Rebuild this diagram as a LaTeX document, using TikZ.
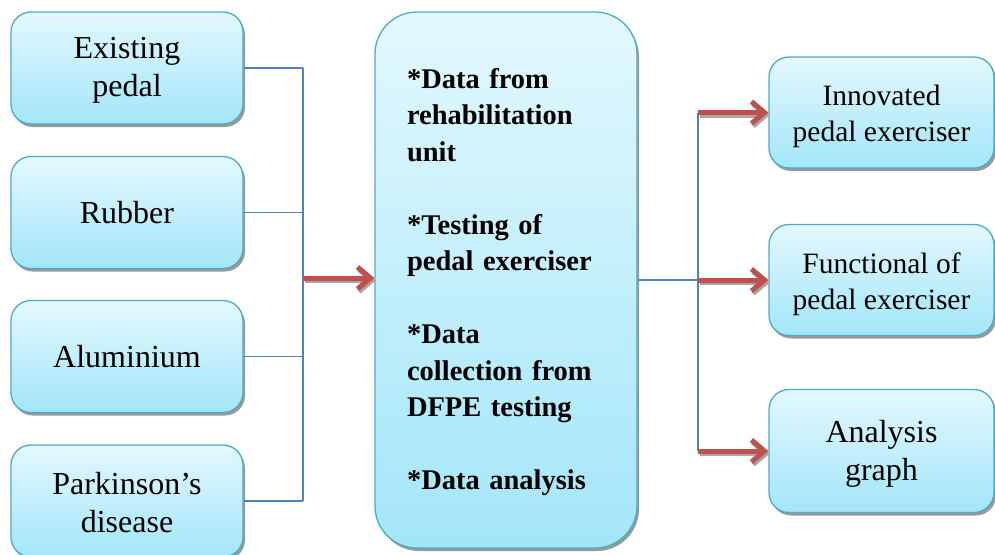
\documentclass[tikz,border=0pt]{standalone}
\usepackage{fontspec}
\setmainfont{Liberation Serif}
\usetikzlibrary{arrows.meta,shadows}
\definecolor{boxtop}{HTML}{E3F8FE}
\definecolor{boxbot}{HTML}{A3E6F9}
\definecolor{boxline}{HTML}{4BACC6}
\definecolor{conline}{HTML}{4F81BD}
\definecolor{redarr}{HTML}{C0504D}
\newcommand\myrise[1]{\rule{0pt}{#1}}
\tikzset{
  softbox/.style={draw=boxline, line width=1.3pt, top color=boxtop, bottom color=boxbot,
    rounded corners=20pt, align=center, inner sep=0pt,
    drop shadow={shadow xshift=2pt, shadow yshift=-3pt, fill=black!40, opacity=1}},
  leftbox/.style={softbox, minimum width=232pt, minimum height=112pt,
    font=\fontsize{32}{38}\selectfont},
  rightbox/.style={softbox, minimum width=225pt, minimum height=111pt,
    font=\fontsize{29.5}{36}\selectfont},
  bigbox/.style={softbox, rounded corners=42pt, minimum width=262pt, minimum height=536pt,
    align=left, inner xsep=32pt, text width=198pt,
    font=\bfseries\fontsize{28.5}{36.5}\selectfont},
  blueline/.style={draw=conline, line width=1.3pt},
  redarrow/.style={draw=redarr, line width=5pt, -{Straight Barb[length=13pt,width=22pt]}},
  arrshadow/.style={draw=black!35, line width=5pt, -{Straight Barb[length=13pt,width=22pt]}},
}
\begin{document}
\begin{tikzpicture}[x=1pt,y=-1pt]
\useasboundingbox (0,0) rectangle (995,554);
% left boxes
\node[leftbox] (l1) at (127,68) {\myrise{26pt}Existing\\pedal};
\node[leftbox] (l2) at (127,212.5) {Rubber};
\node[leftbox] (l3) at (127,356.5) {Aluminium};
\node[leftbox] (l4) at (127,501) {\myrise{26pt}Parkinson’s\\disease};
% center box
\node[bigbox] (c) at (506,280) {\myrise{24pt}*Data from\\rehabilitation\\unit\\[36.5pt]*Testing of\\pedal exerciser\\[36.5pt]*Data\\collection from\\DFPE testing\\[36.5pt]*Data analysis};
% right boxes
\node[rightbox] (r1) at (881.5,112.5) {\myrise{28.5pt}Innovated\\pedal exerciser};
\node[rightbox] (r2) at (881.5,280) {\myrise{28.5pt}Functional of\\pedal exerciser};
\node[rightbox, minimum height=123pt, font=\fontsize{32}{38}\selectfont] (r3) at (881.5,451) {\myrise{27pt}Analysis\\graph};
% junction coordinates
\coordinate (jx) at (303,278);
\coordinate (hR) at (698,280);
% left connectors
\draw[blueline] (l1.east) -- (l1.east -| jx);
\draw[blueline] (l2.east) -- (l2.east -| jx);
\draw[blueline] (l3.east) -- (l3.east -| jx);
\draw[blueline] (l4.east) -- (l4.east -| jx);
\draw[blueline] (jx |- l1.east) -- (jx |- l4.east);
\draw[arrshadow, transform canvas={xshift=1.5pt,yshift=-2.5pt}] (jx) -- (jx -| c.west);
\draw[redarrow] (jx) -- (jx -| c.west);
% right connectors
\draw[blueline] (c.east) -- (hR);
\draw[blueline] (hR |- r1.west) -- (hR |- r3.west);
\foreach \r in {r1,r2,r3}{
  \draw[arrshadow, transform canvas={xshift=1.5pt,yshift=-2.5pt}] (hR |- \r.west) -- (\r.west);
  \draw[redarrow] (hR |- \r.west) -- (\r.west);
}
\end{tikzpicture}
\end{document}
